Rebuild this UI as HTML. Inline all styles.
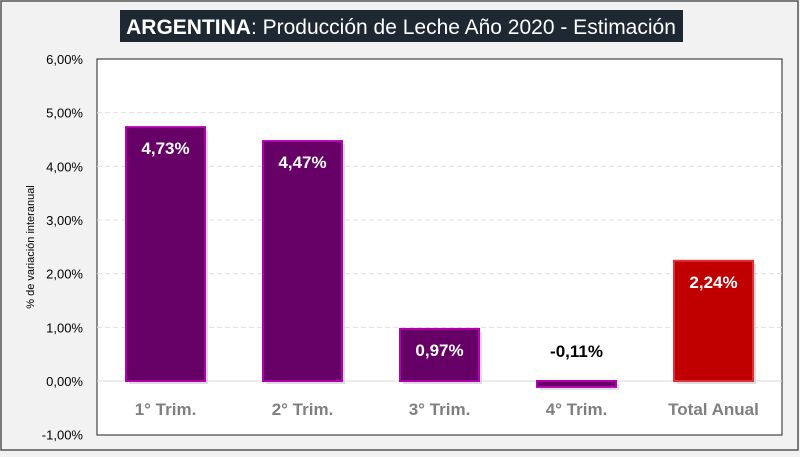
<!DOCTYPE html>
<html><head><meta charset="utf-8"><style>
body{margin:0;width:800px;height:452px;overflow:hidden;background:#f2f2f2;font-family:"Liberation Sans",sans-serif}
</style></head><body>
<svg width="800" height="452" id="svg">
<rect x="1" y="1" width="797" height="449" fill="#f2f2f2" stroke="#555" stroke-width="1.5"/>
<rect x="120" y="10" width="563" height="32" fill="#1e2833"/>
<text x="401" y="34" text-anchor="middle" font-size="21" fill="#fff"><tspan font-weight="bold">ARGENTINA</tspan>: Producción de Leche Año 2020 - Estimación</text>
<rect x="97" y="59" width="685" height="376" fill="#fff" stroke="#444" stroke-width="1.2"/>
<text transform="translate(34,247) rotate(-90)" text-anchor="middle" font-size="11" fill="#000">% de variación interanual</text>
<g id="g"></g>
</svg>
<script>
const categories=["1° Trim.","2° Trim.","3° Trim.","4° Trim.","Total Anual"];
const values=[4.73,4.47,0.97,-0.11,2.24];
const labels=["4,73%","4,47%","0,97%","-0,11%","2,24%"];
const ticks=[6,5,4,3,2,1,0,-1];
const tickLabels=["6,00%","5,00%","4,00%","3,00%","2,00%","1,00%","0,00%","-1,00%"];
const X0=97,W=685,Y0=381,PX=53.67;
const y=v=>Y0-v*PX;
const xc=i=>X0+W/categories.length*(i+0.5);
const g=document.getElementById('g');
const NS="http://www.w3.org/2000/svg";
function mk(t,a){const e=document.createElementNS(NS,t);for(const k in a)e.setAttribute(k,a[k]);g.appendChild(e);return e;}
ticks.forEach((t,i)=>{
  if(t<6&&t>-1){const l=mk('line',{x1:X0,x2:X0+W,y1:y(t),y2:y(t),stroke:t===0?'#d9d9d9':'#e0e0e0','stroke-dasharray':t===0?'':'5,3'});
  
  }
  const tx=mk('text',{x:83,y:y(t)+5,'text-anchor':'end','font-size':13,fill:'#000'});tx.textContent=tickLabels[i];
  
  
});
values.forEach((v,i)=>{
  const bw=79,x=xc(i)-bw/2,top=Math.min(y(v),y(0)),h=Math.max(Math.abs(y(v)-y(0)),4);
  const last=i===values.length-1;
  const sh=mk('rect',{x:x+3,y:top+3,width:bw,height:h,fill:'#bbb',opacity:0.5});
  
  
  const b=mk('rect',{x:x,y:top,width:bw,height:h,fill:last?'#c00000':'#660066',stroke:last?'#e0303a':'#b000b0','stroke-width':2});
  
  
  const ly=v>=0?top+27:y(0)-24;
  const lt=mk('text',{x:xc(i),y:ly,'text-anchor':'middle','font-size':17,'font-weight':'bold',fill:v>=0?'#fff':'#000'});lt.textContent=labels[i];
  
  
  const ct=mk('text',{x:xc(i),y:415,'text-anchor':'middle','font-size':17,'font-weight':'bold',fill:'#7f7f7f'});ct.textContent=categories[i];
  
  
});
</script>
</body></html>
